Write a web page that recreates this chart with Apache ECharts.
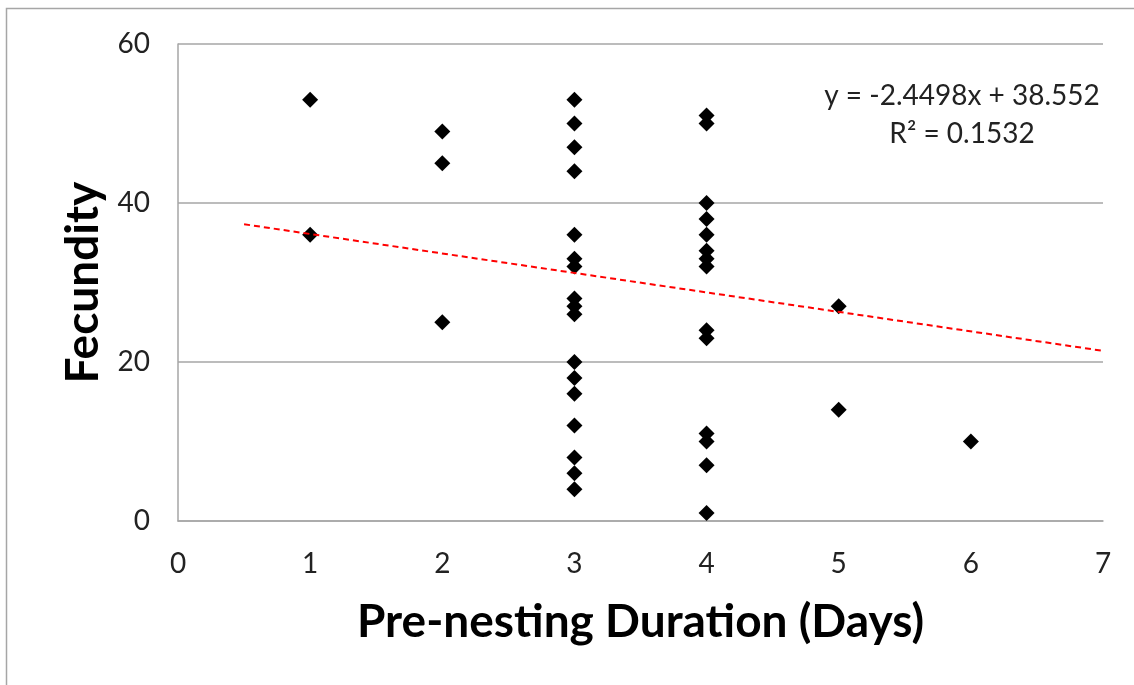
<!DOCTYPE html>
<html>
<head>
<meta charset="utf-8">
<script src="https://cdn.jsdelivr.net/npm/echarts@6/dist/echarts.min.js"></script>
<style>
html,body{margin:0;padding:0;background:#fff;}
#c{width:1134px;height:685px;}
</style>
</head>
<body>
<div id="c"></div>
<script>
// Pre-nesting duration (days) and fecundity for each observation
var durationDays = [
  1, 1,
  2, 2, 2,
  3, 3, 3, 3, 3, 3, 3, 3, 3, 3, 3, 3, 3, 3, 3, 3, 3,
  4, 4, 4, 4, 4, 4, 4, 4, 4, 4, 4, 4, 4, 4,
  5, 5,
  6
];
var fecundity = [
  53, 36,
  49, 45, 25,
  53, 50, 47, 44, 36, 33, 32, 28, 27, 26, 20, 18, 16, 12, 8, 6, 4,
  51, 50, 40, 38, 36, 34, 33, 32, 24, 23, 11, 10, 7, 1,
  27, 14,
  10
];
// Linear trendline (as reported on the chart)
var trendSlope = -2.4498;
var trendIntercept = 38.552;
var trendR2 = 0.1532;
var trendRangeX = [0.5, 7];
var xTicks = [0, 1, 2, 3, 4, 5, 6, 7];
var yTicks = [0, 20, 40, 60];
var xTitle = 'Pre-nesting Duration (Days)';
var yTitle = 'Fecundity';

var points = durationDays.map(function (d, i) { return [d, fecundity[i]]; });
var trendPoints = trendRangeX.map(function (x) { return [x, trendIntercept + trendSlope * x]; });

var chart = echarts.init(document.getElementById('c'), null, {renderer: 'canvas'});
var font = 'Lato, "Open Sans", "Liberation Sans", sans-serif';
chart.setOption({
  animation: false,
  backgroundColor: '#fff',
  grid: {left: 178, top: 44, right: 31, bottom: 164, containLabel: false},
  xAxis: {
    type: 'value', min: 0, max: 7, interval: 1,
    name: xTitle, nameLocation: 'middle', nameGap: 78,
    nameTextStyle: {fontFamily: font, fontWeight: 'bold', fontSize: 46, color: '#000'},
    axisLine: {show: true, lineStyle: {color: '#a6a6a6', width: 1.5}},
    axisTick: {show: false},
    axisLabel: {fontFamily: font, fontSize: 28, color: '#222', margin: 29},
    splitLine: {show: false}
  },
  yAxis: {
    type: 'value', min: 0, max: 60, interval: 20,
    name: yTitle, nameLocation: 'middle', nameGap: 72,
    nameTextStyle: {fontFamily: font, fontWeight: 'bold', fontSize: 46, color: '#000'},
    axisLine: {show: true, lineStyle: {color: '#a6a6a6', width: 1.5}},
    axisTick: {show: false},
    axisLabel: {fontFamily: font, fontSize: 28, color: '#222', margin: 28},
    splitLine: {show: true, lineStyle: {color: '#a6a6a6', width: 1.5}}
  },
  graphic: [
    {type: 'rect', silent: true, z: -10,
     shape: {x: 6.5, y: 8.5, width: 1200, height: 800},
     style: {fill: 'none', stroke: '#a6a6a6', lineWidth: 1.5}},
    {type: 'text', x: 962, y: 96, z: 10,
     style: {text: 'y = ' + trendSlope + 'x + ' + trendIntercept,
             font: '28px ' + font, fill: '#222', textAlign: 'center', textVerticalAlign: 'middle'}},
    {type: 'text', x: 962, y: 134, z: 10,
     style: {text: 'R\u00B2 = ' + trendR2,
             font: '28px ' + font, fill: '#222', textAlign: 'center', textVerticalAlign: 'middle'}}
  ],
  series: [
    {
      type: 'scatter', data: points, symbol: 'diamond', symbolSize: 16,
      itemStyle: {color: '#000', opacity: 1}, z: 3
    },
    {
      type: 'line', data: trendPoints, showSymbol: false, symbol: 'none',
      lineStyle: {color: '#ff0000', width: 2, type: [6, 4]}, z: 4
    }
  ]
});
</script>
</body>
</html>
